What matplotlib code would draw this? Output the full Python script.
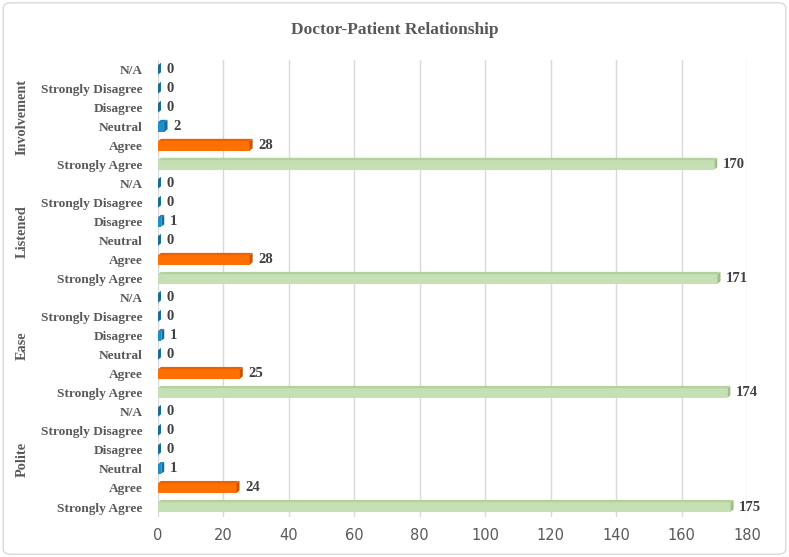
import matplotlib.pyplot as plt
from matplotlib.patches import FancyBboxPatch, Polygon

groups = ["Polite", "Ease", "Listened", "Involvement"]
responses = ["Strongly Agree", "Agree", "Neutral", "Disagree", "Strongly Disagree", "N/A"]
polite = [175, 24, 1, 0, 0, 0]
ease = [174, 25, 0, 1, 0, 0]
listened = [171, 28, 0, 1, 0, 0]
involvement = [170, 28, 2, 0, 0, 0]
xticks = [0, 20, 40, 60, 80, 100, 120, 140, 160, 180]

values = polite + ease + listened + involvement
labels = responses * len(groups)

front = {"Strongly Agree": "#c5e0b4", "Agree": "#ff7000"}
side = {"Strongly Agree": "#9dbf86", "Agree": "#c85300"}
top = {"Strongly Agree": "#b2d19c", "Agree": "#e86300"}

fig = plt.figure(figsize=(7.89, 5.57), dpi=100)
ax = fig.add_axes([0.2003, 0.0727, 0.7465, 0.819])

serif = "Liberation Serif"
gray = "#595959"

for i, (lab, v) in enumerate(zip(labels, values)):
    fc = front.get(lab, "#1f8fc8")
    sc = side.get(lab, "#156a9a")
    tc = top.get(lab, "#1a7db0")
    h = 0.5
    d = 0.9   # depth in x units
    dy = 0.12
    ax.barh(i, v, height=h, color=fc, zorder=3)
    # side face
    ax.add_patch(Polygon([(v, i - h / 2), (v + d, i - h / 2 + dy), (v + d, i + h / 2 + dy), (v, i + h / 2)],
                         closed=True, facecolor=sc, edgecolor="none", zorder=4))
    # top face
    ax.add_patch(Polygon([(0, i + h / 2), (v, i + h / 2), (v + d, i + h / 2 + dy), (d, i + h / 2 + dy)],
                         closed=True, facecolor=tc, edgecolor="none", zorder=4))
    ax.text(v + 2.6, i, str(v), va="center", ha="left", fontsize=10.5, fontweight="bold",
            family=serif, color="#404040", zorder=5)

ax.set_xlim(0, 180)
ax.set_ylim(-0.5, len(values) - 0.5)
ax.set_xticks(xticks)
ax.set_yticks(range(len(values)))
ax.set_yticklabels(labels, family=serif, fontweight="bold", fontsize=9.6, color=gray)
ax.tick_params(axis="x", labelsize=10.5, colors=gray, length=0, pad=8)
ax.tick_params(axis="y", length=0, pad=11)
ax.grid(axis="x", color="#d9d9d9", linewidth=1, zorder=0)
for s in ax.spines.values():
    s.set_visible(False)

for g, name in enumerate(groups):
    center = g * len(responses) + (len(responses) - 1) / 2
    ax.text(-0.231, center, name, transform=ax.get_yaxis_transform(), rotation=90,
            va="center", ha="center", fontsize=10.3, fontweight="bold", family=serif, color=gray)

fig.text(0.5, 0.946, "Doctor-Patient Relationship", ha="center", va="center",
         fontsize=12.5, fontweight="bold", family=serif, color=gray)

fig.patches.append(FancyBboxPatch((0.004, 0.005), 0.992, 0.99, boxstyle="round,pad=0,rounding_size=0.01",
                                  transform=fig.transFigure, facecolor="none", edgecolor="#d9d9d9", linewidth=1))

fig.savefig("out.png", dpi=100)
